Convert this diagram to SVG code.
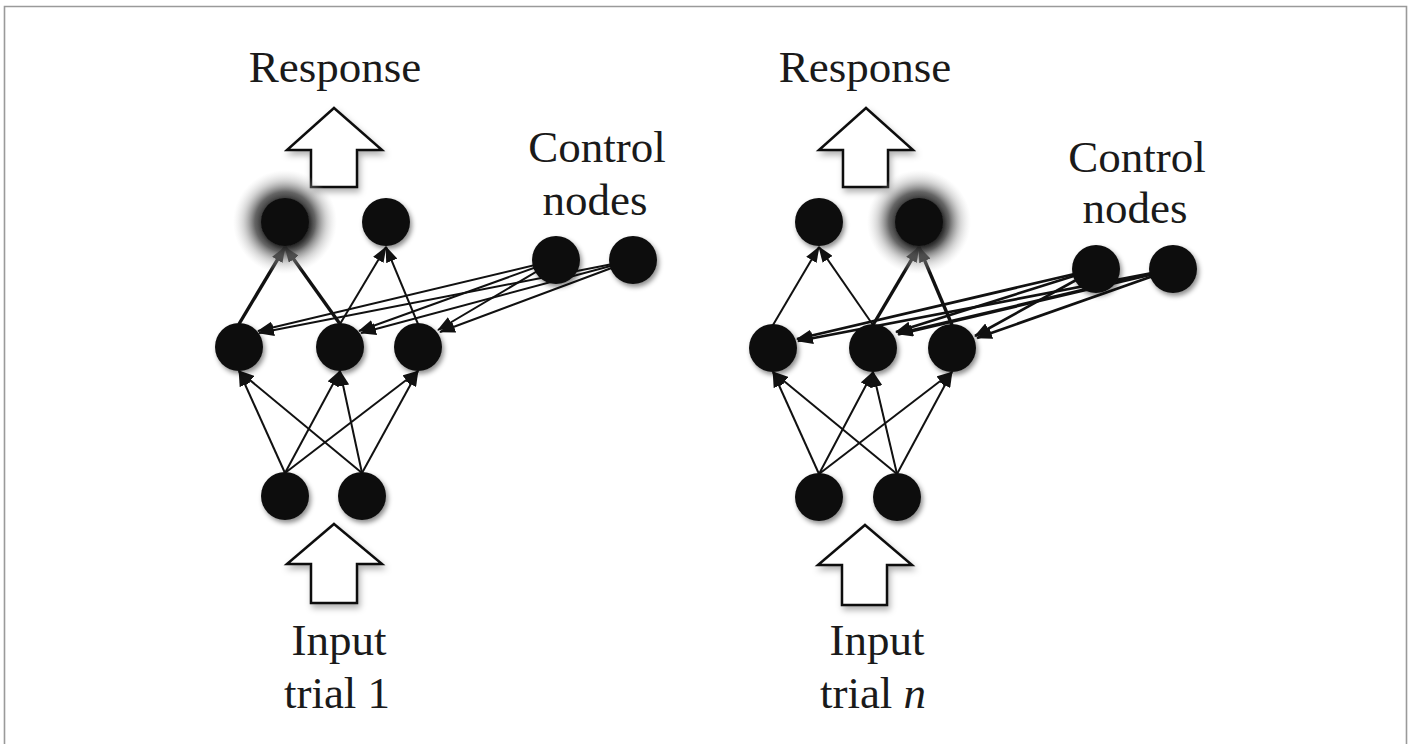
<svg xmlns="http://www.w3.org/2000/svg" width="1415" height="744" viewBox="0 0 1415 744">
<defs>
<style>
.lbl{font-family:"Liberation Serif","DejaVu Serif",serif;font-size:45px;fill:#1a1a1a;text-anchor:middle}
.node{fill:#111;filter:url(#sh)}
.e{stroke:#111;stroke-width:2;fill:none;marker-end:url(#ah)}
.t{stroke-width:3.4}
.m{stroke-width:2.7}
.big{fill:#fff;stroke:#111;stroke-width:2.5;stroke-linejoin:miter;filter:url(#sh2)}
.frame{stroke:#9a9a9a;stroke-width:1.6;fill:none}
</style>
<filter id="sh" x="-50%" y="-50%" width="200%" height="200%">
<feDropShadow dx="2" dy="3" stdDeviation="2.5" flood-color="#000" flood-opacity="0.45"/>
</filter>
<filter id="sh2" x="-30%" y="-30%" width="160%" height="160%">
<feDropShadow dx="2" dy="4" stdDeviation="3" flood-color="#000" flood-opacity="0.3"/>
</filter>
<radialGradient id="glow">
<stop offset="0.4" stop-color="#2a2a2a" stop-opacity="1"/>
<stop offset="0.58" stop-color="#4a4a4a" stop-opacity="0.85"/>
<stop offset="0.8" stop-color="#999" stop-opacity="0.4"/>
<stop offset="1" stop-color="#ccc" stop-opacity="0"/>
</radialGradient>
<marker id="ah" viewBox="0 0 16 12" refX="15" refY="6" markerWidth="16" markerHeight="12" markerUnits="userSpaceOnUse" orient="auto">
<path d="M0,0 L16,6 L0,12 z" fill="#111"/>
</marker>
</defs>
<rect width="1415" height="744" fill="#fff"/>
<path class="frame" d="M4.5,744 V6.5 H1406.5 V744"/>

<g id="connectors">
<line class="e" x1="285" y1="473" x2="239" y2="371"/>
<line class="e" x1="285" y1="473" x2="340" y2="371"/>
<line class="e" x1="285" y1="473" x2="418" y2="371"/>
<line class="e" x1="362" y1="473" x2="239" y2="371"/>
<line class="e" x1="362" y1="473" x2="340" y2="371"/>
<line class="e" x1="362" y1="473" x2="418" y2="371"/>
<line class="e t" x1="239" y1="324" x2="285" y2="247"/>
<line class="e t" x1="340" y1="324" x2="285" y2="247"/>
<line class="e" x1="340" y1="324" x2="386" y2="247"/>
<line class="e" x1="418" y1="324" x2="386" y2="247"/>
<line class="e" x1="556" y1="260" x2="258" y2="331"/>
<line class="e" x1="556" y1="260" x2="359" y2="331"/>
<line class="e" x1="556" y1="260" x2="438" y2="330"/>
<line class="e" x1="633" y1="260" x2="259" y2="333"/>
<line class="e" x1="633" y1="260" x2="361" y2="333"/>
<line class="e" x1="633" y1="260" x2="440" y2="332"/>

<line class="e" x1="819" y1="474" x2="773" y2="372"/>
<line class="e" x1="819" y1="474" x2="873" y2="372"/>
<line class="e" x1="819" y1="474" x2="952" y2="372"/>
<line class="e" x1="897" y1="474" x2="773" y2="372"/>
<line class="e" x1="897" y1="474" x2="873" y2="372"/>
<line class="e" x1="897" y1="474" x2="952" y2="372"/>
<line class="e" x1="773" y1="325" x2="819" y2="247"/>
<line class="e" x1="873" y1="325" x2="819" y2="247"/>
<line class="e t" x1="873" y1="325" x2="919" y2="247"/>
<line class="e t" x1="952" y1="325" x2="919" y2="247"/>
<line class="e m" x1="1096" y1="269" x2="797" y2="339"/>
<line class="e m" x1="1096" y1="269" x2="896" y2="332"/>
<line class="e m" x1="1096" y1="269" x2="975" y2="336"/>
<line class="e m" x1="1173" y1="269" x2="798" y2="341"/>
<line class="e t" x1="1173" y1="269" x2="898" y2="334"/>
<line class="e m" x1="1173" y1="269" x2="977" y2="338"/>
</g>

<g id="left-panel">
<g id="L-response-label"><text class="lbl" x="335" y="82">Response</text></g>
<g id="L-response-arrow"><polygon class="big" points="334,108 382,150 357,150 357,187 311,187 311,150 287,150"/></g>
<g id="L-control-label"><text class="lbl" x="597" y="162">Control</text><text class="lbl" x="595" y="215">nodes</text></g>
<g id="L-out1"><circle cx="285" cy="222" r="52" fill="url(#glow)"/><circle class="node" cx="285" cy="222" r="24"/></g>
<g id="L-out2"><circle class="node" cx="386" cy="222" r="24"/></g>
<g id="L-hid1"><circle class="node" cx="239" cy="347" r="24"/></g>
<g id="L-hid2"><circle class="node" cx="340" cy="347" r="24"/></g>
<g id="L-hid3"><circle class="node" cx="418" cy="347" r="24"/></g>
<g id="L-ctl1"><circle class="node" cx="556" cy="260" r="24"/></g>
<g id="L-ctl2"><circle class="node" cx="633" cy="260" r="24"/></g>
<g id="L-in1"><circle class="node" cx="285" cy="496" r="24"/></g>
<g id="L-in2"><circle class="node" cx="362" cy="496" r="24"/></g>
<g id="L-input-arrow"><polygon class="big" points="334,524 382,564 357,564 357,603 311,603 311,564 287,564"/></g>
<g id="L-input-label"><text class="lbl" x="339" y="655">Input</text><text class="lbl" x="337" y="708">trial 1</text></g>
</g>

<g id="right-panel">
<g id="R-response-label"><text class="lbl" x="865" y="82">Response</text></g>
<g id="R-response-arrow"><polygon class="big" points="866,108 913,150 888,150 888,187 843,187 843,150 819,150"/></g>
<g id="R-control-label"><text class="lbl" x="1137" y="172">Control</text><text class="lbl" x="1135" y="223">nodes</text></g>
<g id="R-out1"><circle class="node" cx="819" cy="222" r="24"/></g>
<g id="R-out2"><circle cx="919" cy="222" r="52" fill="url(#glow)"/><circle class="node" cx="919" cy="222" r="24"/></g>
<g id="R-hid1"><circle class="node" cx="773" cy="348" r="24"/></g>
<g id="R-hid2"><circle class="node" cx="873" cy="348" r="24"/></g>
<g id="R-hid3"><circle class="node" cx="952" cy="348" r="24"/></g>
<g id="R-ctl1"><circle class="node" cx="1096" cy="269" r="24"/></g>
<g id="R-ctl2"><circle class="node" cx="1173" cy="269" r="24"/></g>
<g id="R-in1"><circle class="node" cx="819" cy="497" r="24"/></g>
<g id="R-in2"><circle class="node" cx="897" cy="497" r="24"/></g>
<g id="R-input-arrow"><polygon class="big" points="865,525 912,565 887,565 887,605 842,605 842,565 818,565"/></g>
<g id="R-input-label"><text class="lbl" x="877" y="655">Input</text><text class="lbl" x="873" y="708">trial <tspan font-style="italic">n</tspan></text></g>
</g>
</svg>
